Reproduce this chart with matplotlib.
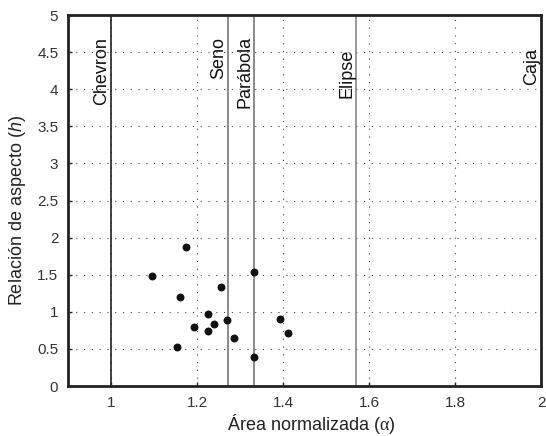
import numpy as np
import matplotlib
matplotlib.use('Agg')
from matplotlib import pyplot as plt

# measured points (normalized area, aspect ratio)
area = [1.096, 1.175, 1.161, 1.255, 1.333, 1.226, 1.239, 1.192, 1.226, 1.270, 1.287, 1.153, 1.333, 1.394, 1.412]
aspect = [1.48, 1.87, 1.20, 1.33, 1.54, 0.97, 0.84, 0.80, 0.74, 0.89, 0.65, 0.53, 0.39, 0.90, 0.71]

# reference shapes
shape_names = ['Chevron', 'Seno', 'Parábola', 'Elipse', 'Caja']
shape_area = [1.0, 4 / np.pi, 4 / 3, np.pi / 2, 2.0]
shape_label_top = [4.70, 4.70, 4.72, 4.55, 4.55]
shape_colors = ['#222222', '#777777', '#777777', '#888888', '#222222']

xticks = [1, 1.2, 1.4, 1.6, 1.8, 2]
xtick_labels = ['1', '1.2', '1.4', '1.6', '1.8', '2']
yticks = [0, 0.5, 1, 1.5, 2, 2.5, 3, 3.5, 4, 4.5, 5]
ytick_labels = ['0', '0.5', '1', '1.5', '2', '2.5', '3', '3.5', '4', '4.5', '5']

plt.rcParams['font.family'] = ['Liberation Sans', 'DejaVu Sans']
plt.rcParams['mathtext.fontset'] = 'custom'
plt.rcParams['mathtext.it'] = 'Liberation Sans:italic'
plt.rcParams['mathtext.rm'] = 'Liberation Serif'

W, H = 546, 436
fig = plt.figure(figsize=(W / 100, H / 100), dpi=100)
ax = fig.add_axes([68 / W, (H - 386) / H, 473 / W, 371 / H])

ax.set_xlim(0.9, 2.0)
ax.set_ylim(0, 5)

# grid
ax.set_xticks(xticks)
ax.set_xticklabels(xtick_labels)
ax.set_yticks(yticks)
ax.set_yticklabels(ytick_labels)
ax.grid(True, linestyle=(0, (1, 6)), color='#444444', linewidth=0.8)
ax.set_axisbelow(True)

# shape lines and labels
for name, a, top, c in zip(shape_names, shape_area, shape_label_top, shape_colors):
  if a < 2.0:
    ax.axvline(a, color=c, linewidth=1.2, zorder=2)
  ax.text(a - 0.002, top, name, rotation=90, ha='right', va='top', fontsize=13, color='#111111')

ax.scatter(area, aspect, s=22, color='#111111', zorder=3)

for s in ax.spines.values():
  s.set_linewidth(2)
  s.set_color('#222222')
ax.tick_params(direction='in', length=3, width=1, labelsize=11, colors='#222222', pad=7)
for lbl in ax.get_xticklabels() + ax.get_yticklabels():
  lbl.set_color('#333333')

# axis labels placed where they sit in the reference
fig.text(311 / W, (H - 424) / H, 'Área normalizada ($\\mathrm{\\alpha}$)', fontsize=13, color='#222222', ha='center', va='center')
fig.text(18 / W, (H - 210) / H, 'Relación de aspecto ($h$)', fontsize=13, color='#222222', ha='center', va='center', rotation=90)

fig.savefig('out.png', dpi=100)
